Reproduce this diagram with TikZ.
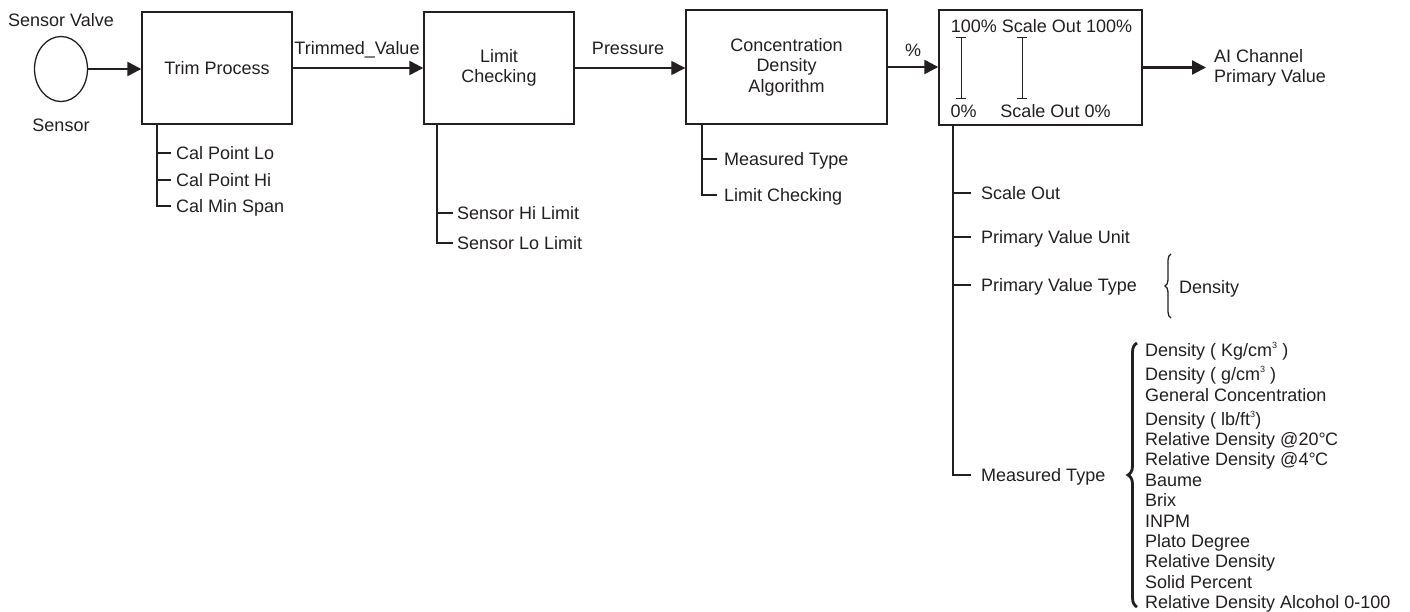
\documentclass[tikz,border=0pt]{standalone}
\usepackage{fontspec}
\setmainfont{Liberation Sans}
\usetikzlibrary{arrows.meta,shapes.geometric,decorations.pathreplacing,calc}
\definecolor{ink}{RGB}{35,31,32}
\newcommand{\cubesup}{\raisebox{8pt}{\fontsize{9}{9}\selectfont 3}}
\begin{document}
\begin{tikzpicture}[x=1pt,y=-1pt,
  every node/.style={font=\fontsize{18}{20.5}\selectfont, text=ink},
  lbl/.style={inner sep=0pt, text height=13pt, text depth=0pt},
  leaf/.style={lbl, anchor=west},
  blk/.style={draw=ink, line width=1.4pt, rectangle, align=center, inner sep=0pt},
  flow/.style={draw=ink, line width=2.4pt, -{Triangle[length=14pt,width=14pt]}},
  thinflow/.style={draw=ink, line width=1.3pt, -{Triangle[length=14pt,width=14pt]}},
  tree/.style={draw=ink, line width=1.4pt},
  brc/.style={draw=ink, decorate, decoration={brace, amplitude=6pt}},
  spanbar/.style={draw=ink, line width=1pt, {Bar[width=10pt]}-{Bar[width=10pt]}},
]
\useasboundingbox (0,0) rectangle (1410,611);

% sensor
\node[draw=ink, line width=1.3pt, ellipse, minimum width=53pt, minimum height=65pt, inner sep=0pt] (sensor) at (61,69) {};
\node[lbl] (sv) at (61,20) {Sensor Valve};
\node[lbl] (sl) at (61,125) {Sensor};

% blocks
\node[blk, minimum width=150pt, minimum height=112pt] (trim) at (217,68) {Trim Process};
\node[blk, minimum width=150pt, minimum height=112pt] (limit) at (499,68) {Limit\\Checking};
\node[blk, minimum width=201pt, minimum height=114pt] (conc) at (786.5,67) {Concentration\\Density\\Algorithm};
\node[blk, minimum width=203pt, minimum height=115pt] (scale) at (1040.5,67.5) {};
\node[anchor=west, align=left, inner xsep=8pt, inner ysep=0pt] (ai) at (1206,68) {AI Channel\\Primary Value};

% flow labels
\node[lbl] (tv) at (357,48) {Trimmed\_Value};
\node[lbl] (pr) at (628,48) {Pressure};
\node[lbl] (pc) at (913,50) {\%};

% flow arrows
\draw[flow] (sensor.east) -- (sensor.east -| trim.west);
\draw[flow] (trim.east) -- (limit.west);
\draw[thinflow] (limit.east) -- (limit.east -| conc.west);
\draw[flow] (conc.east) -- (conc.east -| scale.west);
\draw[flow] (scale.east) -- (scale.east -| ai.west);

% inside scale block
\node[lbl] (s100) at (1041.5,26) {100\% Scale Out 100\%};
\node[lbl] (s0) at (963.5,111) {0\%};
\node[lbl] (so0) at (1055.5,111) {Scale Out 0\%};
\coordinate (r1t) at (961,37);
\coordinate (r1b) at (961,99);
\coordinate (r2t) at (1022,37);
\coordinate (r2b) at (1022,99);
\draw[spanbar] (r1t) -- (r1b);
\draw[spanbar] (r2t) -- (r2b);

% trim tree
\coordinate (tr) at (157,124);
\node[leaf] (cpl) at (176,153) {Cal Point Lo};
\node[leaf] (cph) at (176,180) {Cal Point Hi};
\node[leaf] (cms) at (176,206) {Cal Min Span};
\draw[tree] (tr) |- ([xshift=-5pt]cms.west);
\draw[tree] (tr |- cpl.west) -- ([xshift=-5pt]cpl.west);
\draw[tree] (tr |- cph.west) -- ([xshift=-5pt]cph.west);

% limit tree
\coordinate (lr) at (437,124);
\node[leaf] (shi) at (457,213) {Sensor Hi Limit};
\node[leaf] (slo) at (457,243) {Sensor Lo Limit};
\draw[tree] (lr) |- ([xshift=-4pt]slo.west);
\draw[tree] (lr |- shi.west) -- ([xshift=-4pt]shi.west);

% concentration tree
\coordinate (cr) at (702,124);
\node[leaf] (cmt) at (724,159) {Measured Type};
\node[leaf] (clc) at (724,195) {Limit Checking};
\draw[tree] (cr) |- ([xshift=-7pt]clc.west);
\draw[tree] (cr |- cmt.west) -- ([xshift=-7pt]cmt.west);

% scale tree
\coordinate (sr) at (953,125);
\node[leaf] (sco) at (981,193) {Scale Out};
\node[leaf] (pvu) at (981,237) {Primary Value Unit};
\node[leaf] (pvt) at (981,285) {Primary Value Type};
\node[leaf] (smt) at (981,475) {Measured Type};
\draw[tree] (sr) |- ([xshift=-10pt]smt.west);
\draw[tree] (sr |- sco.west) -- ([xshift=-10pt]sco.west);
\draw[tree] (sr |- pvu.west) -- ([xshift=-10pt]pvu.west);
\draw[tree] (sr |- pvt.west) -- ([xshift=-10pt]pvt.west);

% primary value type brace
\coordinate (b1b) at (1171,318);
\coordinate (b1t) at (1171,254);
\draw[brc, line width=1.3pt] (b1b) -- (b1t);
\node[leaf] (dens) at (1179,287) {Density};

% measured type brace and list
\coordinate (b2b) at (1137,607);
\coordinate (b2t) at (1137,343);
\draw[brc, line width=2.8pt, decoration={amplitude=9pt}] (b2b) -- (b2t);
\node[leaf] (m1) at (1145,350) {Density ( Kg/cm\cubesup\ )};
\node[leaf] (m2) at (1145,374) {Density ( g/cm\cubesup\ )};
\node[leaf] (m3) at (1145,395) {General Concentration};
\node[leaf] (m4) at (1145,419) {Density ( lb/ft\cubesup)};
\node[leaf] (m5) at (1145,439) {Relative Density @20°\kern-0.5pt C};
\node[leaf] (m6) at (1145,459) {Relative Density @4°\kern-0.5pt C};
\node[leaf] (m7) at (1145,480) {Baume};
\node[leaf] (m8) at (1145,500) {Brix};
\node[leaf] (m9) at (1145,521) {INPM};
\node[leaf] (m10) at (1145,541) {Plato Degree};
\node[leaf] (m11) at (1145,561) {Relative Density};
\node[leaf] (m12) at (1145,582) {Solid Percent};
\node[leaf] (m13) at (1145,602) {Relative Density Alcohol 0-100};
\end{tikzpicture}
\end{document}
